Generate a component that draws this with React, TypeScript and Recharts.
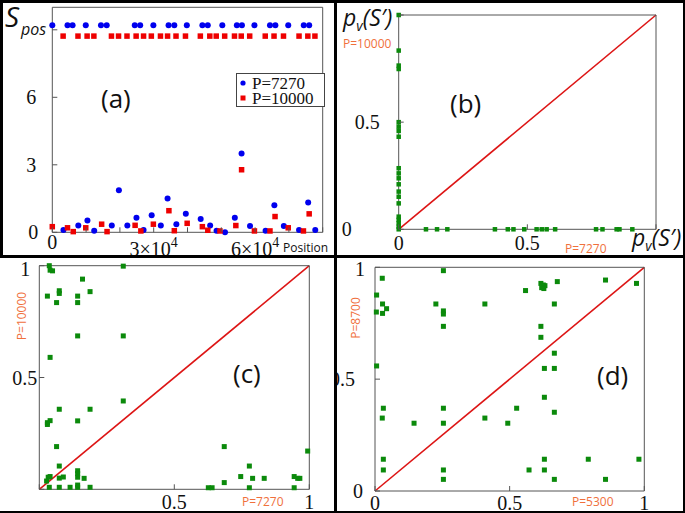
import React from "react";
import { ScatterChart, Scatter, XAxis, YAxis, ReferenceLine, Legend } from "recharts";

// (a) S_pos vs position, [position, S_pos]
const sPos7270: [number, number][] = [
  [0, 9.2], [4500, 9.2], [6000, 9.2], [9900, 9.2], [14400, 9.2], [16100, 9.2], [24400, 9.2], [26000, 9.2],
  [29900, 9.2], [34400, 9.2], [36100, 9.2], [39800, 9.2], [44400, 9.2], [46000, 9.2], [50300, 9.2], [54600, 9.2],
  [56100, 9.2], [59800, 9.2], [64400, 9.2], [66000, 9.2], [69800, 9.2], [74400, 9.2], [76000, 9.2],
  [3300, 0.1], [7700, 0.3], [10400, 0.52], [12400, 0.07], [17600, 0.3], [19700, 1.87], [22200, 0.3], [24900, 0.65],
  [27000, 0.1], [29400, 0.76], [32100, 0.3], [34100, 1.5], [36700, 0.36], [39500, 0.82], [43900, 0.59], [46700, 0.3],
  [48600, 0.07], [51100, 0.0], [54000, 0.65], [56000, 3.5], [58500, 0.28], [63100, 0.07], [65700, 1.2], [68500, 0.28],
  [73000, 0.1], [75700, 1.32], [77800, 0.1],
];
const sPos10000: [number, number][] = [
  [3200, 8.72], [7600, 8.72], [10300, 8.72], [12300, 8.72], [17500, 8.72], [19600, 8.72], [22100, 8.72], [24800, 8.72],
  [27000, 8.72], [29300, 8.72], [32000, 8.72], [34100, 8.72], [36600, 8.72], [39400, 8.72], [43800, 8.72], [46600, 8.72],
  [48500, 8.72], [51000, 8.72], [53900, 8.72], [55900, 8.72], [58400, 8.72], [63000, 8.72], [65600, 8.72], [68400, 8.72],
  [73000, 8.72], [75600, 8.72], [77700, 8.72],
  [0, 0.25], [4500, 0.2], [6200, 0.03], [9900, 0.2], [14600, 0.36], [16200, 0.03], [24500, 0.31], [26200, 0.06],
  [29900, 0.36], [34500, 0.96], [36100, 0.07], [39900, 0.4], [44400, 0.25], [46000, 0.09], [49600, 0.06], [54300, 0.3],
  [56000, 2.78], [59800, 0.06], [64400, 0.06], [65900, 0.7], [69800, 0.2], [74300, 0.06], [76000, 0.82],
];
const posTicks = [0, 10000, 20000, 30000, 40000, 50000, 60000, 70000, 80000];
const sTicks = [0, 3, 6, 9];
const unitTicks = [0, 0.5, 1];

// (b) p_v(S') at P=7270 (x) vs P=10000 (y)
const pvB: [number, number][] = [
  [0, 1.0], [0, 0.834], [0, 0.764], [0, 0.748], [0, 0.5], [0, 0.479], [0, 0.459], [0, 0.432], [0, 0.285],
  [0, 0.261], [0, 0.238], [0, 0.21], [0, 0.176], [0, 0.152], [0, 0.121], [0, 0.059], [0, 0.044], [0, 0.028],
  [0, 0.012], [0, 0],
  [0.106, 0], [0.149, 0], [0.189, 0], [0.374, 0], [0.424, 0], [0.446, 0], [0.488, 0], [0.536, 0], [0.556, 0],
  [0.575, 0], [0.608, 0], [0.767, 0], [0.792, 0], [0.847, 0], [0.858, 0], [0.908, 0],
];

// (c) P=7270 (x) vs P=10000 (y)
const pvC: [number, number][] = [
  [0.037, 1.0], [0.04, 0.98], [0.049, 0.977], [0.311, 0.998], [0.16, 0.94], [0.03, 0.864], [0.074, 0.888],
  [0.074, 0.876], [0.142, 0.864], [0.064, 0.835], [0.142, 0.835], [0.188, 0.884], [0.142, 0.686], [0.311, 0.686],
  [0.04, 0.59], [0.311, 0.395], [0.074, 0.358], [0.188, 0.358], [0.03, 0.298], [0.04, 0.307], [0.03, 0.29],
  [0.142, 0.306], [0.064, 0.191], [0.074, 0.104], [0.027, 0.037], [0.033, 0.054], [0.04, 0.057], [0.074, 0.05],
  [0.089, 0.055], [0.142, 0.083], [0.142, 0.07], [0.142, 0.054], [0.166, 0.049], [0.037, 0.009], [0.074, 0.009],
  [0.114, 0.009], [0.142, 0.009], [0.142, 0.019], [0.188, 0.009], [0.626, 0.007], [0.64, 0.007], [0.685, 0.191],
  [0.685, 0.03], [0.746, 0.057], [0.778, 0.104], [0.79, 0.049], [0.833, 0.049], [0.778, 0.007], [0.944, 0.057],
  [0.957, 0.049], [0.965, 0.049], [0.944, 0.007], [0.994, 0.171],
];

// (d) P=5300 (x) vs P=8700 (y)
const pvD: [number, number][] = [
  [0.027, 0.951], [0.254, 0.985], [0.006, 0.876], [0.028, 0.836], [0.005, 0.8], [0.028, 0.794], [0.043, 0.815],
  [0.226, 0.836], [0.254, 0.805], [0.254, 0.791], [0.254, 0.736], [0.408, 0.836], [0.559, 0.896], [0.616, 0.928],
  [0.625, 0.921], [0.631, 0.918], [0.619, 0.909], [0.627, 0.905], [0.677, 0.936], [0.666, 0.836], [0.856, 0.943],
  [0.971, 0.928], [0.616, 0.736], [0.616, 0.687], [0.666, 0.616], [0.629, 0.548], [0.666, 0.548], [0.629, 0.419],
  [0.666, 0.352], [0.006, 0.559], [0.031, 0.37], [0.027, 0.326], [0.145, 0.303], [0.254, 0.37], [0.254, 0.303],
  [0.408, 0.326], [0.493, 0.303], [0.526, 0.37], [0.031, 0.142], [0.031, 0.094], [0.254, 0.094], [0.254, 0.052],
  [0.572, 0.094], [0.629, 0.142], [0.629, 0.094], [0.666, 0.052], [0.792, 0.142], [0.856, 0.052], [0.98, 0.142],
];

const SERIF = "'Liberation Serif', 'Times New Roman', serif";
const SANS = "'Open Sans', 'Noto Sans', sans-serif";
const AXIS = "#555";
const BLUE = "#0000ee";
const RED = "#ee0000";
const GREEN = "#0b8a0b";
const ORANGE = "#f0703c";
const DIAG = "#dd1515";
const TL = 5;

type Lab = { t: React.ReactNode; dx?: number; dy?: number };

const bottomTick = (labels: Record<string, Lab>) => (p: any) => {
  const l = labels[String(p.payload.value)];
  return (
    <g>
      <line x1={p.x} x2={p.x} y1={p.y} y2={p.y - TL} stroke={AXIS} />
      {l && (
        <text x={p.x + (l.dx ?? 0)} y={p.y + (l.dy ?? 20)} textAnchor="middle" fontFamily={SERIF} fontSize={20} fill="#111">
          {l.t}
        </text>
      )}
    </g>
  );
};
const leftTick = (labels: Record<string, Lab>) => (p: any) => {
  const l = labels[String(p.payload.value)];
  return (
    <g>
      <line x1={p.x} x2={p.x + TL} y1={p.y} y2={p.y} stroke={AXIS} />
      {l && (
        <text x={p.x - (l.dx ?? 12)} y={p.y + (l.dy ?? 7)} textAnchor="end" fontFamily={SERIF} fontSize={20} fill="#111">
          {l.t}
        </text>
      )}
    </g>
  );
};
const topTick = (p: any) => <line x1={p.x} x2={p.x} y1={p.y} y2={p.y + TL} stroke={AXIS} />;
const rightTick = (p: any) => <line x1={p.x} x2={p.x - TL} y1={p.y} y2={p.y} stroke={AXIS} />;

const square = (size: number, fill: string) => (p: any) =>
  <rect x={p.cx - size / 2} y={p.cy - size / 2} width={size} height={size} fill={fill} />;
const dot = (r: number, fill: string) => (p: any) => <circle cx={p.cx} cy={p.cy} r={r} fill={fill} />;

const toXY = (pts: [number, number][]) => pts.map(([x, y]) => ({ x, y }));

// axes are 1px thick so that Recharts still draws them; margins below are reduced by that pixel
function frameAxes(xDomain: number[], yDomain: number[], xTicks: number[], yTicks: number[], xLab: Record<string, Lab>, yLab: Record<string, Lab>) {
  const common = { type: "number" as const, interval: 0 as const, tickSize: 0, tickMargin: 0, tickLine: false, axisLine: { stroke: AXIS } };
  return [
    <XAxis key="xb" dataKey="x" domain={xDomain} ticks={xTicks} height={1} tick={bottomTick(xLab)} {...common} />,
    <XAxis key="xt" xAxisId="t" orientation="top" domain={xDomain} ticks={xTicks} height={1} tick={topTick} {...common} />,
    <YAxis key="yl" dataKey="y" domain={yDomain} ticks={yTicks} width={1} tick={leftTick(yLab)} {...common} />,
    <YAxis key="yr" yAxisId="r" orientation="right" domain={yDomain} ticks={yTicks} width={1} tick={rightTick} {...common} />,
  ];
}

const pv = (x: number, y: number, big: number) => (
  <text x={x} y={y} fontFamily={SANS} fontStyle="italic" fontSize={big} fill="#111">
    p<tspan fontSize={big * 0.6} dy={5}>v</tspan>
    <tspan dy={-5}>(S′)</tspan>
  </text>
);

const panel = (left: number, top: number, w: number, h: number): React.CSSProperties => ({
  position: "absolute", left, top, width: w, height: h, overflow: "hidden", background: "#fff",
});
const overlay: React.CSSProperties = { position: "absolute", left: 0, top: 0, pointerEvents: "none" };

function LegendBox(props: any) {
  const items: any[] = props.payload ?? [];
  const blue = items.find((e) => e.value === "P=7270");
  const red = items.find((e) => e.value === "P=10000");
  return (
    <svg width={89} height={34} style={{ display: "block" }}>
      <rect x={0.5} y={0.5} width={88} height={33} fill="#fff" stroke="#444" />
      {blue && (
        <g>
          <circle cx={7} cy={10} r={2.6} fill={blue.color} />
          <text x={16} y={16} fontFamily={SERIF} fontSize={17} fill="#111">{blue.value}</text>
        </g>
      )}
      {red && (
        <g>
          <rect x={4.5} y={22.5} width={5} height={5} fill={red.color} />
          <text x={16} y={31} fontFamily={SERIF} fontSize={17} fill="#111">{red.value}</text>
        </g>
      )}
    </svg>
  );
}

export default function App() {
  const aX: Record<string, Lab> = {
    "0": { t: "0", dy: 17 },
    "30000": { t: <>3×10<tspan fontSize={14} dy={-9}>4</tspan></>, dy: 24 },
    "60000": { t: <>6×10<tspan fontSize={14} dy={-9}>4</tspan></>, dy: 24 },
  };
  const aY: Record<string, Lab> = { "0": { t: "0", dx: 14 }, "3": { t: "3", dx: 16 }, "6": { t: "6", dx: 16 } };
  const bX: Record<string, Lab> = { "0": { t: "0", dy: 21 }, "0.5": { t: "0.5", dy: 21 } };
  const bY: Record<string, Lab> = { "0": { t: "0", dx: 47 }, "0.5": { t: "0.5", dx: 19 } };
  const cX: Record<string, Lab> = { "0.5": { t: "0.5", dy: 20 }, "1": { t: "1", dy: 20 } };
  const cY: Record<string, Lab> = { "1": { t: "1", dx: 9, dy: 10 }, "0.5": { t: "0.5", dx: 2 } };
  const dX: Record<string, Lab> = { "0": { t: "0", dy: 19 }, "0.5": { t: "0.5", dy: 19 }, "1": { t: "1", dy: 19 } };
  const dY: Record<string, Lab> = { "0": { t: "0", dx: 12 }, "0.5": { t: "0.5", dx: 20 }, "1": { t: "1", dx: 10, dy: 9 } };

  const diag = <ReferenceLine segment={[{ x: 0, y: 0 }, { x: 1, y: 1 }]} stroke={DIAG} strokeWidth={1.6} />;

  return (
    <div style={{ position: "absolute", left: 0, top: 0, width: 685, height: 513, background: "#fff" }}>
      {/* (a) */}
      <div style={panel(0, 0, 335, 255)}>
        <ScatterChart width={335} height={255} margin={{ top: 6.3, right: 11.3, bottom: 21.7, left: 51.3 }}>
          {frameAxes([0, 80000], [0, 10], posTicks, sTicks, aX, aY)}
          <Legend layout="vertical" align="center" verticalAlign="middle" content={LegendBox}
            wrapperStyle={{ left: 236, top: 73, width: 89, height: 34 }} />
          <Scatter name="P=7270" data={toXY(sPos7270)} fill={BLUE} shape={dot(3, BLUE)} isAnimationActive={false} />
          <Scatter name="P=10000" data={toXY(sPos10000)} fill={RED} shape={square(5.5, RED)} isAnimationActive={false} />
        </ScatterChart>
        <svg width={335} height={255} style={overlay}>
          <text x={5} y={27} fontFamily={SANS} fontStyle="italic" fontSize={28} fill="#111">S</text>
          <text x={21} y={35} fontFamily={SANS} fontStyle="italic" fontSize={16} fill="#111">pos</text>
          <text x={101} y={108} fontFamily={SANS} fontSize={26} fill="#111">(a)</text>
          <text x={283} y={252} fontFamily={SANS} fontSize={12} fill="#111">Position</text>
        </svg>
      </div>

      {/* (b) */}
      <div style={panel(335, 0, 350, 255)}>
        <ScatterChart width={350} height={255} margin={{ top: 14, right: 28, bottom: 24.7, left: 62.7 }}>
          {frameAxes([0, 1], [0, 1], unitTicks, unitTicks, bX, bY)}
          {diag}
          <Scatter data={toXY(pvB)} fill={GREEN} shape={square(4.5, GREEN)} isAnimationActive={false} />
        </ScatterChart>
        <svg width={350} height={255} style={overlay}>
          {pv(8, 26, 23)}
          <text x={8} y={48} fontFamily={SANS} fontSize={12} fill={ORANGE}>P=10000</text>
          <text x={115} y={113} fontFamily={SANS} fontSize={26} fill="#111">(b)</text>
          <text x={230} y={253} fontFamily={SANS} fontSize={12} fill={ORANGE}>P=7270</text>
          {pv(297, 246, 23)}
        </svg>
      </div>

      {/* (c) */}
      <div style={panel(0, 255, 335, 258)}>
        <ScatterChart width={335} height={258} margin={{ top: 9.7, right: 24.7, bottom: 22.7, left: 38.3 }}>
          {frameAxes([0, 1], [0, 1], unitTicks, unitTicks, cX, cY)}
          {diag}
          <Scatter data={toXY(pvC)} fill={GREEN} shape={square(5, GREEN)} isAnimationActive={false} />
        </ScatterChart>
        <svg width={335} height={258} style={overlay}>
          <text x={26} y={61} transform="rotate(-90 26 61)" textAnchor="middle" fontFamily={SANS} fontSize={12} fill={ORANGE}>P=10000</text>
          <text x={242} y={251} fontFamily={SANS} fontSize={12} fill={ORANGE}>P=7270</text>
          <text x={233} y={128} fontFamily={SANS} fontSize={26} fill="#111">(c)</text>
        </svg>
      </div>

      {/* (d) */}
      <div style={panel(335, 255, 350, 258)}>
        <ScatterChart width={350} height={258} margin={{ top: 11.3, right: 39.7, bottom: 21, left: 39 }}>
          {frameAxes([0, 1], [0, 1], unitTicks, unitTicks, dX, dY)}
          {diag}
          <Scatter data={toXY(pvD)} fill={GREEN} shape={square(5, GREEN)} isAnimationActive={false} />
        </ScatterChart>
        <svg width={350} height={258} style={overlay}>
          <text x={25} y={63} transform="rotate(-90 25 63)" textAnchor="middle" fontFamily={SANS} fontSize={12} fill={ORANGE}>P=8700</text>
          <text x={237} y={251} fontFamily={SANS} fontSize={12} fill={ORANGE}>P=5300</text>
          <text x={262} y={130} fontFamily={SANS} fontSize={26} fill="#111">(d)</text>
        </svg>
      </div>

      {/* panel borders */}
      <div style={{ position: "absolute", left: 0, top: 0, width: 685, height: 2.5, background: "#000" }} />
      <div style={{ position: "absolute", left: 0, top: 0, width: 2.5, height: 255, background: "#000" }} />
      <div style={{ position: "absolute", left: 682.5, top: 0, width: 2.5, height: 513, background: "#000" }} />
      <div style={{ position: "absolute", left: 0, top: 510.5, width: 685, height: 2.5, background: "#000" }} />
      <div style={{ position: "absolute", left: 333.5, top: 0, width: 3, height: 513, background: "#000" }} />
      <div style={{ position: "absolute", left: 0, top: 254.5, width: 685, height: 3, background: "#000" }} />
    </div>
  );
}
